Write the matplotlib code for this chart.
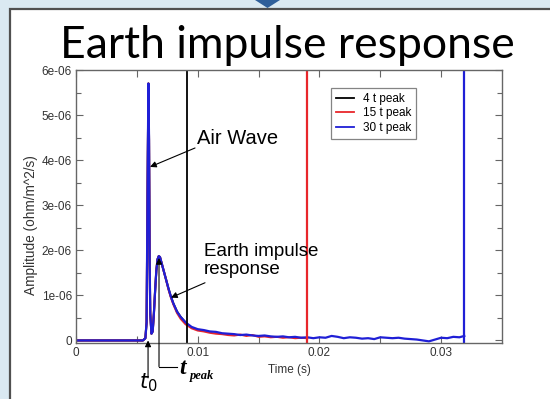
import matplotlib
matplotlib.use("Agg")
import matplotlib.pyplot as plt
import matplotlib.patches as patches
import numpy as np

# ---data---
# time in seconds, amplitude in 1e-6 ohm/m^2/s
blue_time = [0.0, 0.0055, 0.0057, 0.0058, 0.0059, 0.00595, 0.0060, 0.00605, 0.0061,
             0.0062, 0.0063, 0.0064, 0.0065, 0.0066, 0.0067, 0.0068, 0.0069, 0.0070,
             0.0072, 0.0074, 0.0076, 0.0078, 0.0080, 0.0083, 0.0086, 0.0090, 0.0095,
             0.0100, 0.0105, 0.0110, 0.0115, 0.0120, 0.0125, 0.0130, 0.0135, 0.0140,
             0.0145, 0.0150, 0.0155, 0.0160, 0.0165, 0.0170, 0.0175, 0.0180, 0.0185,
             0.0190, 0.0195, 0.0200, 0.0205, 0.0210, 0.0215, 0.0220, 0.0225, 0.0230,
             0.0235, 0.0240, 0.0245, 0.0250, 0.0255, 0.0260, 0.0265, 0.0270, 0.0275,
             0.0280, 0.0285, 0.0290, 0.0295, 0.0300, 0.0305, 0.0310, 0.0315, 0.0319]
blue_amp = [0.0, 0.0, 0.05, 0.4, 4.1, 5.7, 4.45, 1.8, 0.6,
            0.15, 0.2, 0.6, 1.1, 1.55, 1.8, 1.87, 1.85, 1.75,
            1.55, 1.35, 1.15, 0.97, 0.82, 0.64, 0.52, 0.40, 0.30,
            0.25, 0.23, 0.20, 0.19, 0.16, 0.15, 0.14, 0.12, 0.13,
            0.11, 0.10, 0.11, 0.09, 0.08, 0.09, 0.07, 0.08, 0.06,
            0.07, 0.05, 0.07, 0.06, 0.10, 0.08, 0.05, 0.07, 0.06,
            0.04, 0.05, 0.03, 0.07, 0.06, 0.05, 0.06, 0.04, 0.03,
            0.02, 0.00, -0.02, 0.02, 0.06, 0.05, 0.08, 0.07, 0.10]

red_time = [0.0, 0.0055, 0.0057, 0.0058, 0.0059, 0.00595, 0.0060, 0.00605, 0.0061,
            0.0062, 0.0063, 0.0064, 0.0065, 0.0066, 0.0067, 0.0068, 0.0069, 0.0070,
            0.0072, 0.0074, 0.0076, 0.0078, 0.0080, 0.0083, 0.0086, 0.0090, 0.0095,
            0.0100, 0.0105, 0.0110, 0.0115, 0.0120, 0.0125, 0.0130, 0.0135, 0.0140,
            0.0145, 0.0150, 0.0155, 0.0160, 0.0165, 0.0170, 0.0175, 0.0180, 0.0185,
            0.0190]
red_amp = [0.0, 0.0, 0.05, 0.4, 4.1, 5.7, 4.45, 1.8, 0.6,
           0.15, 0.2, 0.6, 1.1, 1.55, 1.8, 1.87, 1.85, 1.75,
           1.55, 1.35, 1.13, 0.95, 0.80, 0.61, 0.48, 0.36, 0.27,
           0.22, 0.20, 0.17, 0.15, 0.14, 0.12, 0.11, 0.13, 0.10,
           0.12, 0.08, 0.09, 0.07, 0.08, 0.06, 0.07, 0.05, 0.06,
           0.05]

# end of each window (4, 15 and 30 t peak)
end_times = [0.0091, 0.0190, 0.0319]
series_labels = ['4 t peak', '15 t peak', '30 t peak']
series_colors = ['black', '#e8262b', '#1f1fd6']

x_ticks = [0, 0.01, 0.02, 0.03]
x_tick_labels = ['0', '0.01', '0.02', '0.03']
y_ticks = [0, 1e-6, 2e-6, 3e-6, 4e-6, 5e-6, 6e-6]
y_tick_labels = ['0', '1e-06', '2e-06', '3e-06', '4e-06', '5e-06', '6e-06']

t0 = 0.00592
t_peak = 0.00682

blue_time = np.array(blue_time)
blue_amp = np.array(blue_amp) * 1e-6
red_amp = np.array(red_amp) * 1e-6
black_mask = blue_time <= end_times[0]

# ---figure---
W, H = 550, 399
fig = plt.figure(figsize=(5.5, 3.99), dpi=100)
fig.patch.set_facecolor('#dae9f2')

# white slide panel with dark border
panel = patches.Rectangle((10 / W, -0.1), 1.2, 1 - 9 / H + 0.1, transform=fig.transFigure,
                          facecolor='white', edgecolor='#505050', lw=1.6, zorder=0)
fig.add_artist(panel)
tri = patches.Polygon([(255 / W, 1.0), (280 / W, 1.0), (267.5 / W, 1 - 8 / H)],
                      closed=True, transform=fig.transFigure, facecolor='#2f5f9a',
                      edgecolor='none', zorder=1)
fig.add_artist(tri)

fig.text(287.5 / W, 1 - 58 / H, 'Earth impulse response', ha='center', va='baseline',
         fontsize=32, family='Lato', color='black')

ax = fig.add_axes([76 / W, 1 - 342.7 / H, 426 / W, 272.7 / H])
ax.set_facecolor('white')

ax.plot(blue_time[black_mask], blue_amp[black_mask], color=series_colors[0], lw=1.5)
ax.plot(red_time, red_amp, color=series_colors[1], lw=1.5)
ax.plot(blue_time, blue_amp, color=series_colors[2], lw=1.6)

handles = []
for xe, lab, col in zip(end_times, series_labels, series_colors):
    ax.axvline(xe, color=col, lw=1.3 if col == 'black' else 1.6)
    handles.append(plt.Line2D([], [], color=col, lw=1.3, label=lab))

ax.set_xlim(0, 0.035)
ax.set_ylim(-0.05e-6, 6e-6)
ax.set_xticks(x_ticks)
ax.set_xticklabels(x_tick_labels)
ax.set_yticks(y_ticks)
ax.set_yticklabels(y_tick_labels)
ax.set_xticks(np.arange(0.005, 0.035, 0.01), minor=True)
ax.set_yticks(np.arange(0.5e-6, 6e-6, 1e-6), minor=True)
ax.tick_params(which='both', direction='in', top=True, right=True, colors='#666666',
               labelcolor='#333333', labelsize=8.5, width=0.8)
ax.tick_params(which='major', length=5, pad=3)
ax.tick_params(which='minor', length=3.5)
ax.tick_params(axis='x', which='minor', length=5)
for lab in ax.get_xticklabels() + ax.get_yticklabels():
    lab.set_family('Liberation Sans')
for s in ax.spines.values():
    s.set_color('#666666')
    s.set_linewidth(1.0)

ax.set_xlabel('Time (s)', fontsize=8.5, family='Liberation Sans', color='#333333', labelpad=4)
ax.set_ylabel('Amplitude (ohm/m^2/s)', fontsize=9.8, family='Liberation Sans', color='#333333')
ax.yaxis.set_label_coords(-0.09, 0.43)

leg = ax.legend(handles=handles, loc='upper left', bbox_to_anchor=(0.599, 0.934),
                borderaxespad=0, prop={'family': 'Liberation Sans', 'size': 8.5},
                frameon=True, fancybox=False, handlelength=1.5, labelspacing=0.22,
                borderpad=0.4, handletextpad=0.8)
leg.get_frame().set_edgecolor('#666666')
leg.get_frame().set_linewidth(0.9)

# annotations
arrow = dict(arrowstyle='-|>', color='black', lw=0.8, mutation_scale=9, shrinkA=0, shrinkB=0)
ax.annotate('', xy=(0.00608, 3.85e-6), xytext=(0.00978, 4.27e-6), arrowprops=arrow)
ax.text(0.00994, 4.47e-6, 'Air Wave', fontsize=14.5, family='Liberation Sans',
        va='center', ha='left')
ax.annotate('', xy=(0.0078, 0.95e-6), xytext=(0.0106, 1.28e-6), arrowprops=arrow)
ax.text(0.0105, 1.77e-6, 'Earth impulse\nresponse', fontsize=13.5, family='Liberation Sans',
        va='center', ha='left', linespacing=1.1)

# t0 arrow from below the axis
ax.annotate('', xy=(t0, 0.0), xytext=(t0, -0.83e-6), arrowprops=arrow, annotation_clip=False)
ax.text(t0, -0.93e-6, r'$t_0$', fontsize=15, ha='center', va='center', clip_on=False)

# t_peak bracket
ax.annotate('', xy=(t_peak, 1.83e-6), xytext=(t_peak, -0.58e-6), arrowprops=arrow,
            annotation_clip=False)
ax.plot([t_peak, t_peak + 0.0015], [-0.58e-6, -0.58e-6], color='black', lw=0.8, clip_on=False)
ax.text(t_peak + 0.0017, -0.62e-6, 't', fontsize=17, family='Liberation Serif',
        style='italic', weight='bold', ha='left', va='center', clip_on=False)
ax.text(t_peak + 0.0025, -0.78e-6, 'peak', fontsize=9, family='Liberation Serif',
        style='italic', weight='bold', ha='left', va='center', clip_on=False)

fig.savefig('out.png', dpi=100, facecolor=fig.get_facecolor())
